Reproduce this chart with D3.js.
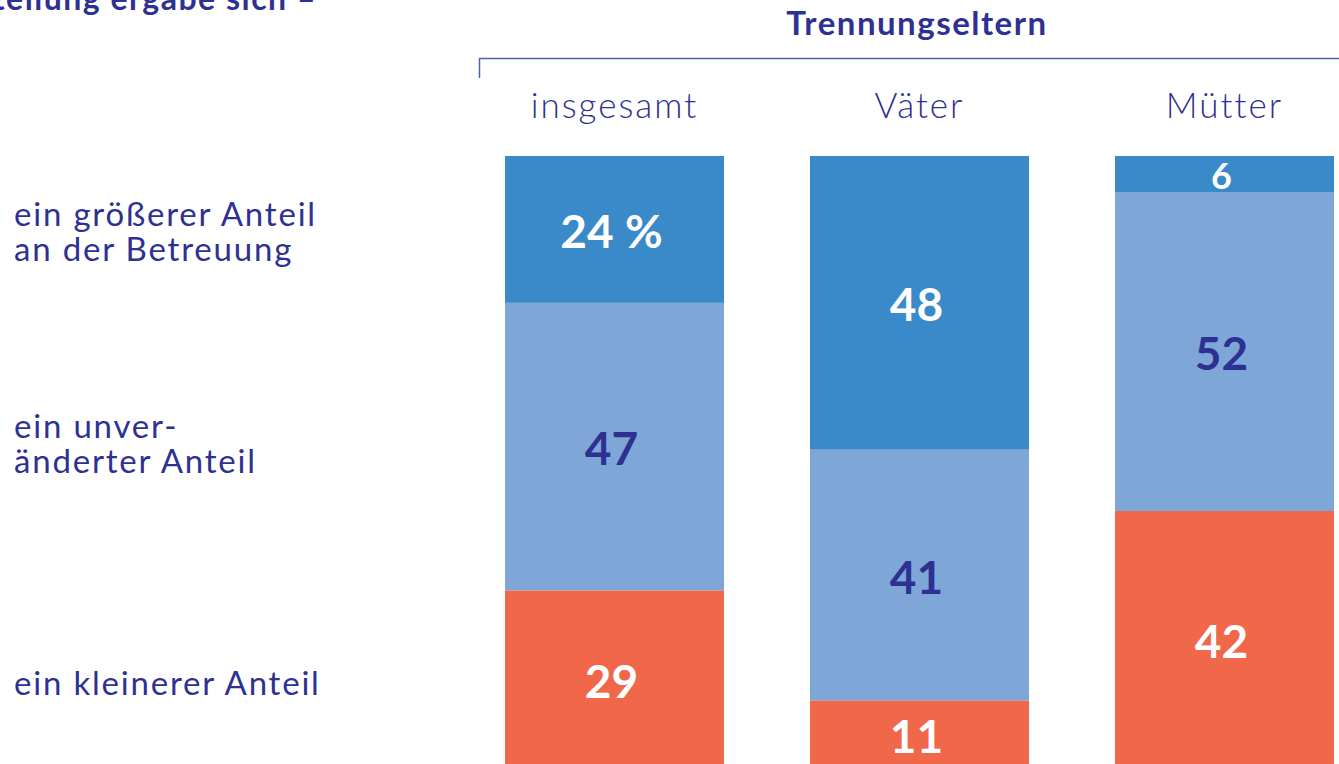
<!DOCTYPE html>
<html>
<head>
<meta charset="utf-8">
<script src="https://cdn.jsdelivr.net/npm/d3@7"></script>
<style>
  body { margin: 0; background: #fff; }
  svg { display: block; }
  text { font-family: "Lato", "Liberation Sans", sans-serif; }
</style>
</head>
<body>
<div id="chart"></div>
<script>
// data
var categories = ["insgesamt", "Väter", "Mütter"];
var groesser = [24, 48, 6];       // ein größerer Anteil
var unveraendert = [47, 41, 52];  // ein unveränderter Anteil
var kleiner = [29, 11, 42];       // ein kleinerer Anteil
var rowLabels = [
	["ein größerer Anteil", "an der Betreuung"],
	["ein unver-", "änderter Anteil"],
	["ein kleinerer Anteil"]
];
var groupTitle = "Trennungseltern";
var topText = "Aufteilung ergabe sich –";

var W = 1339, H = 764;
var navy = "#2e3192";
var colors = ["#3a89c9", "#7ea7d8", "#f0674a"];
var labelColors = ["#fff", navy, "#fff"];

var svg = d3.select("#chart").append("svg")
	.attr("width", W)
	.attr("height", H);

// scales
var x = d3.scaleBand()
	.domain(categories)
	.range([505, 1334])
	.paddingInner(0.282)
	.paddingOuter(0);

var y = d3.scaleLinear()
	.domain([0, 100])
	.range([156, 768]);

// stack the three series
var series = [groesser, unveraendert, kleiner];
var stacked = [];
categories.forEach(function(c, i) {
	var acc = 0;
	series.forEach(function(s, j) {
		stacked.push({cat: c, k: j, v: s[i], y0: acc, y1: acc + s[i], first: i === 0 && j === 0});
		acc += s[i];
	});
});

// top cut-off text
svg.append("text")
	.attr("x", 317)
	.attr("y", 10)
	.attr("text-anchor", "end")
	.attr("fill", navy)
	.attr("font-weight", 700)
	.attr("font-size", 32)
	.attr("letter-spacing", 1.5)
	.text(topText);

// group header
svg.append("text")
	.attr("x", 917)
	.attr("y", 35)
	.attr("text-anchor", "middle")
	.attr("fill", navy)
	.attr("font-weight", 700)
	.attr("font-size", 33)
	.attr("letter-spacing", 1.5)
	.text(groupTitle);

svg.append("path")
	.attr("d", "M479.5,78V58.5H" + W)
	.attr("fill", "none")
	.attr("stroke", "#4a64a8")
	.attr("stroke-width", 1.5);

// category labels
svg.selectAll(".cat")
	.data(categories)
	.enter().append("text")
	.attr("class", "cat")
	.attr("x", function(d) { return x(d) + x.bandwidth() / 2; })
	.attr("y", 118)
	.attr("text-anchor", "middle")
	.attr("fill", navy)
	.attr("font-weight", 300)
	.attr("font-size", 35)
	.attr("letter-spacing", 2)
	.text(function(d) { return d; });

// bars
svg.selectAll(".seg")
	.data(stacked)
	.enter().append("rect")
	.attr("class", "seg")
	.attr("x", function(d) { return x(d.cat); })
	.attr("y", function(d) { return y(d.y0); })
	.attr("width", x.bandwidth())
	.attr("height", function(d) { return y(d.y1) - y(d.y0); })
	.attr("fill", function(d) { return colors[d.k]; });

svg.selectAll(".val")
	.data(stacked)
	.enter().append("text")
	.attr("class", "val")
	.attr("x", function(d) { return x(d.cat) + x.bandwidth() / 2 - 3; })
	.attr("y", function(d) { return (y(d.y0) + y(d.y1)) / 2; })
	.attr("dy", "0.4em")
	.attr("text-anchor", "middle")
	.attr("fill", function(d) { return labelColors[d.k]; })
	.attr("font-weight", 700)
	.attr("font-size", function(d) { return d.v < 10 ? 36 : 46; })
	.text(function(d) { return d.first ? d.v + " %" : d.v; });

// row labels
var rowY = [226, 438, 695];
rowLabels.forEach(function(lines, i) {
	var t = svg.append("text")
		.attr("x", 14)
		.attr("y", rowY[i])
		.attr("fill", navy)
		.attr("font-size", 33)
		.attr("letter-spacing", 1.8);
	lines.forEach(function(l, j) {
		t.append("tspan")
			.attr("x", 14)
			.attr("dy", j === 0 ? 0 : 35)
			.text(l);
	});
});
</script>
</body>
</html>
